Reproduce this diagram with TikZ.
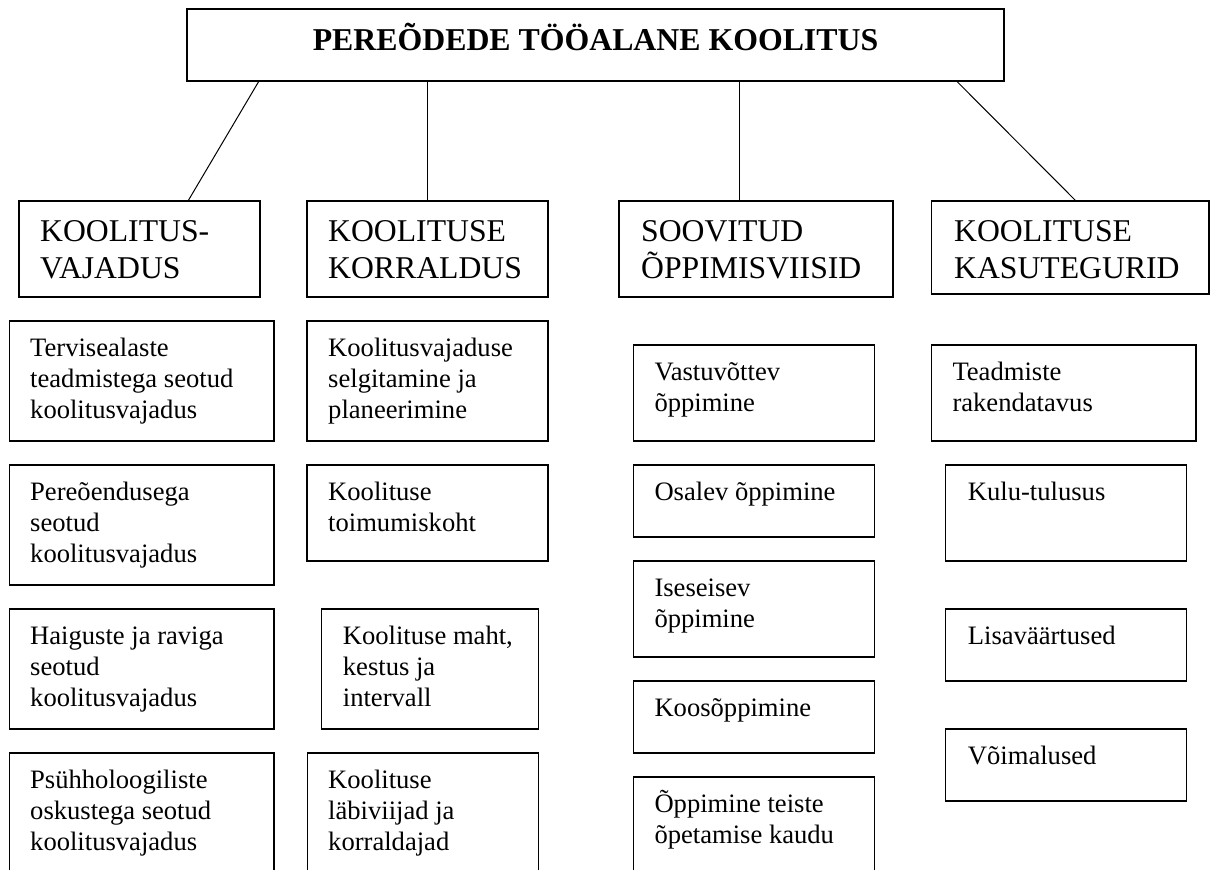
\documentclass[tikz,border=0pt]{standalone}
\usepackage{fontspec}
\setmainfont{Liberation Serif}
\usetikzlibrary{calc}

% stacked lines whose baseline is that of the first line
\newcommand\stacked[1]{\begin{tabular}[t]{@{}l@{}}#1\end{tabular}}

\tikzset{
  frame/.style={draw, line width=1.2pt, anchor=north west, inner sep=0pt, outer sep=0pt},
  link/.style={line width=1pt},
  body/.style={anchor=base west, inner sep=0pt, font=\fontsize{26.6}{31}\selectfont},
  head/.style={anchor=base west, inner sep=0pt, font=\fontsize{31.7}{37}\selectfont},
  title/.style={anchor=base, inner sep=0pt, font=\bfseries\fontsize{31.8}{38}\selectfont},
}

\begin{document}
\begin{tikzpicture}[x=1pt, y=-1pt]
\useasboundingbox (0,0) rectangle (1210,870);
\clip (0,0) rectangle (1210,870);

% root
\node[frame, minimum width=817pt, minimum height=72pt] (top) at (187,9) {};
\node[title] (toptxt) at (595.5,50) {PEREÕDEDE TÖÖALANE KOOLITUS};

% second level
\node[frame, minimum width=241pt, minimum height=96pt] (kv) at (19,201) {};
\node[frame, minimum width=241pt, minimum height=96pt] (kk) at (307,201) {};
\node[frame, minimum width=274pt, minimum height=96pt] (so) at (619,201) {};
\node[frame, minimum width=277.5pt, minimum height=93pt] (ka) at (931.5,201) {};
\node[head] (kvtxt) at (40,241) {\stacked{KOOLITUS-\\VAJADUS}};
\node[head] (kktxt) at (328,241) {\stacked{KOOLITUSE\\KORRALDUS}};
\node[head] (sotxt) at (641,241) {\stacked{SOOVITUD\\ÕPPIMISVIISID}};
\node[head] (katxt) at (954,241) {\stacked{KOOLITUSE\\KASUTEGURID}};

% connectors
\draw[link] ($(top.south west)+(72,0)$) -- ($(kv.north west)+(169,0)$);
\draw[link] (kk.north |- top.south) -- (kk.north);
\draw[link] ($(top.south west)+(552,0)$) -- ($(so.north west)+(120,0)$);
\draw[link] ($(top.south west)+(769.5,0)$) -- ($(ka.north west)+(144.5,0)$);

% column 1
\node[frame, minimum width=264.5pt, minimum height=120pt] (a1) at (9.5,321) {};
\node[frame, minimum width=264.5pt, minimum height=120pt] (a2) at (9.5,465) {};
\node[frame, minimum width=264.5pt, minimum height=120pt] (a3) at (9.5,609) {};
\node[frame, minimum width=264.5pt, minimum height=130pt] (a4) at (9.5,753) {};
\node[body] (a1t) at (30,356) {\stacked{Tervisealaste\\teadmistega seotud\\koolitusvajadus}};
\node[body] (a2t) at (30,500) {\stacked{Pereõendusega\\seotud\\koolitusvajadus}};
\node[body] (a3t) at (30,644) {\stacked{Haiguste ja raviga\\seotud\\koolitusvajadus}};
\node[body] (a4t) at (30,788) {\stacked{Psühholoogiliste\\oskustega seotud\\koolitusvajadus}};

% column 2
\node[frame, minimum width=241pt, minimum height=120pt] (b1) at (307,321) {};
\node[frame, minimum width=241pt, minimum height=96pt] (b2) at (307,465) {};
\node[frame, minimum width=216.5pt, minimum height=120pt] (b3) at (321.7,609) {};
\node[frame, minimum width=231pt, minimum height=130pt] (b4) at (307.2,753) {};
\node[body] (b1t) at (328,356) {\stacked{Koolitusvajaduse\\selgitamine ja\\planeerimine}};
\node[body] (b2t) at (328,500) {\stacked{Koolituse\\toimumiskoht}};
\node[body] (b3t) at (342.7,644) {\stacked{Koolituse maht,\\kestus ja\\intervall}};
\node[body] (b4t) at (328,788) {\stacked{Koolituse\\läbiviijad ja\\korraldajad}};

% column 3
\node[frame, minimum width=241.4pt, minimum height=96pt] (c1) at (633.3,345) {};
\node[frame, minimum width=241.4pt, minimum height=72pt] (c2) at (633.3,465) {};
\node[frame, minimum width=241.4pt, minimum height=96pt] (c3) at (633.3,561) {};
\node[frame, minimum width=241.4pt, minimum height=72pt] (c4) at (633.3,681) {};
\node[frame, minimum width=241.4pt, minimum height=110pt] (c5) at (633.3,777) {};
\node[body] (c1t) at (654.3,380) {\stacked{Vastuvõttev\\õppimine}};
\node[body] (c2t) at (654.3,500) {Osalev õppimine};
\node[body] (c3t) at (654.3,596) {\stacked{Iseseisev\\õppimine}};
\node[body] (c4t) at (654.3,716) {Koosõppimine};
\node[body] (c5t) at (654.3,812) {\stacked{Õppimine teiste\\õpetamise kaudu}};

% column 4
\node[frame, minimum width=264.3pt, minimum height=96pt] (d1) at (931.7,345) {};
\node[frame, minimum width=241pt, minimum height=96pt] (d2) at (945.7,465) {};
\node[frame, minimum width=241pt, minimum height=72pt] (d3) at (945.7,609) {};
\node[frame, minimum width=241pt, minimum height=72pt] (d4) at (945.7,729) {};
\node[body] (d1t) at (952.3,380) {\stacked{Teadmiste\\rakendatavus}};
\node[body] (d2t) at (967.7,500) {Kulu-tulusus};
\node[body] (d3t) at (967.7,644) {Lisaväärtused};
\node[body] (d4t) at (967.7,764) {Võimalused};
\end{tikzpicture}
\end{document}
